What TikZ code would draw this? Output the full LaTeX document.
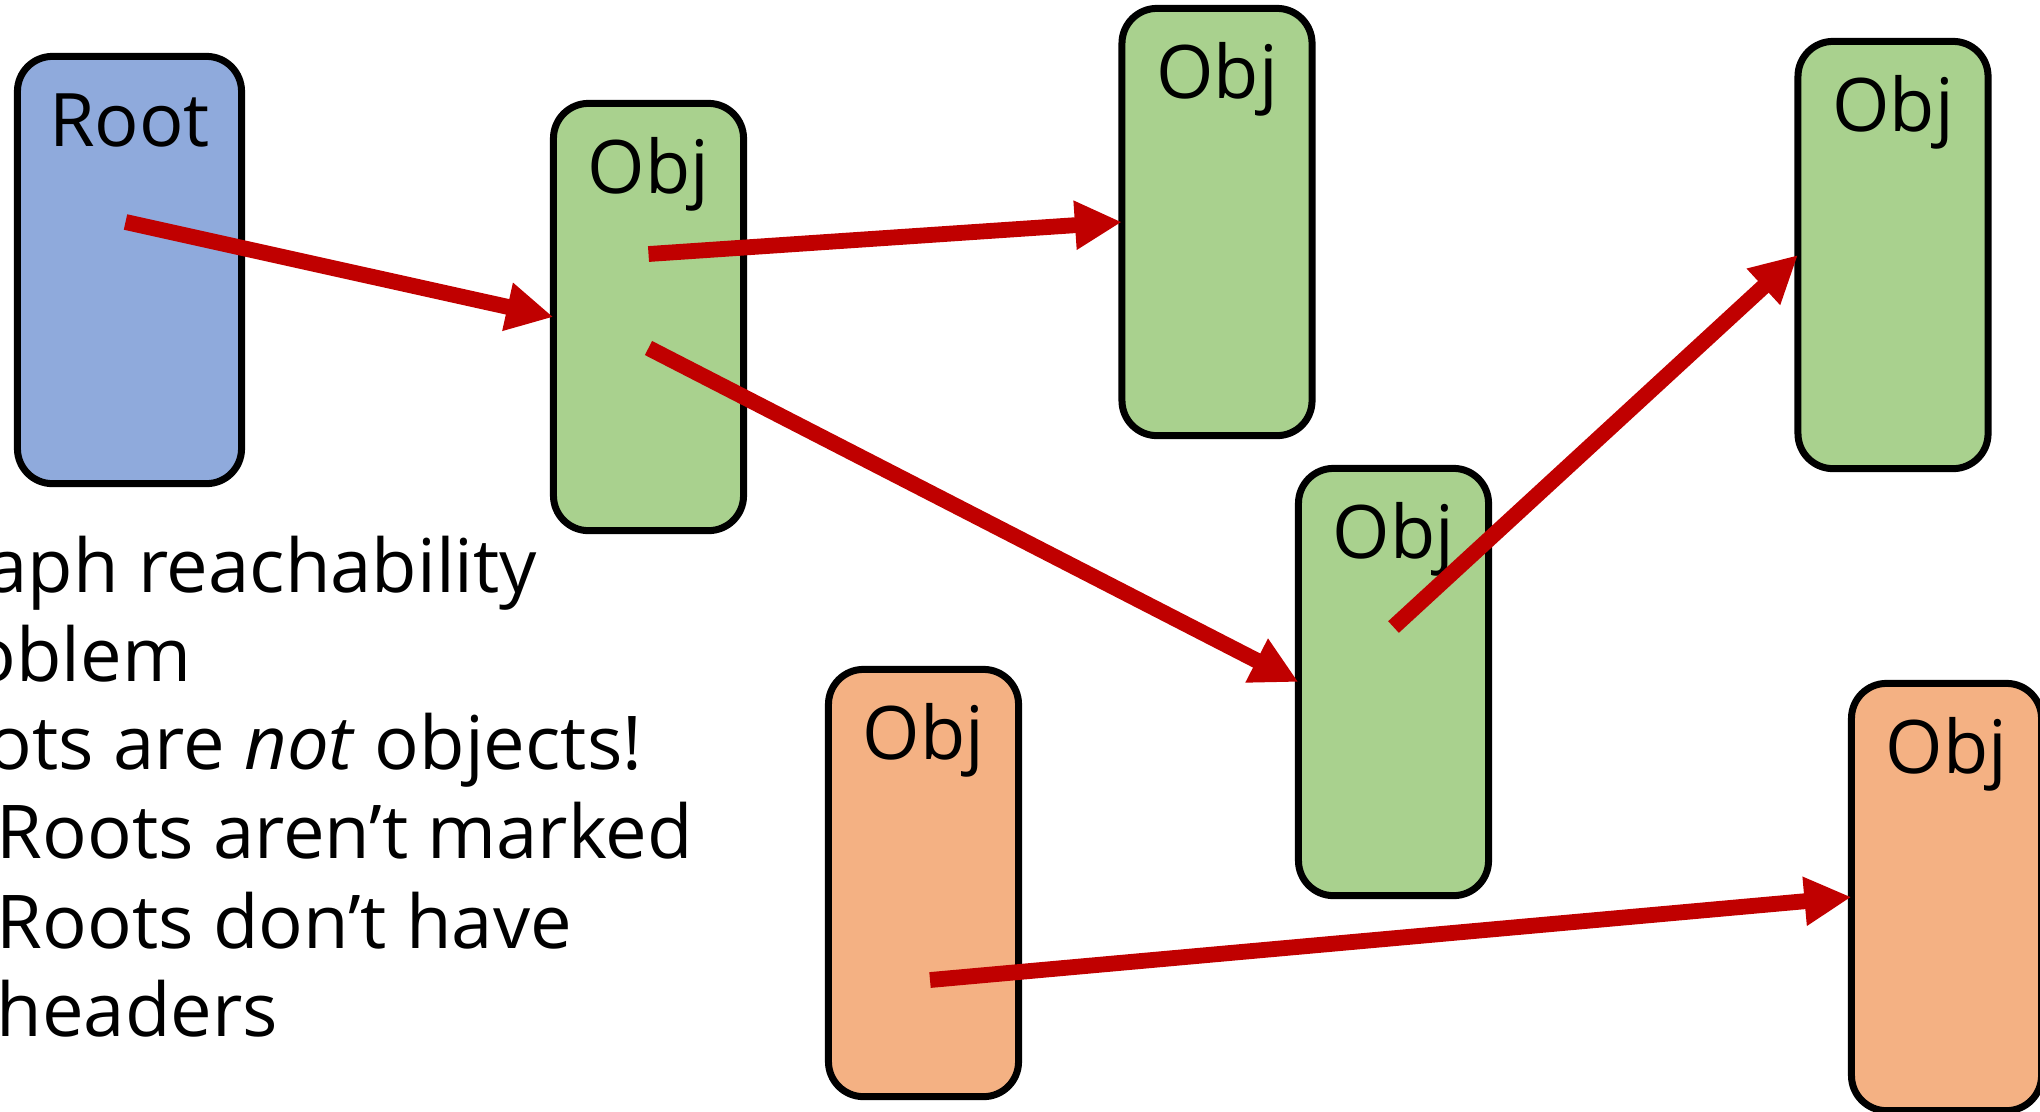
\documentclass[tikz,border=0pt]{standalone}
\usepackage{fontspec}
\setmainfont{Open Sans}
\usetikzlibrary{arrows.meta,calc}
\definecolor{rootblue}{HTML}{8FAADC}
\definecolor{objgreen}{HTML}{A9D18E}
\definecolor{objorange}{HTML}{F4B183}
\definecolor{ptrred}{HTML}{C00000}

\begin{document}
\begin{tikzpicture}[x=0.01cm,y=-0.01cm,
  box/.style={draw=black, line width=0.07cm, rounded corners=0.35cm,
    minimum width=1.90cm, minimum height=4.27cm, inner sep=0, outer sep=0},
  rootbox/.style={box, fill=rootblue, minimum width=2.24cm},
  live/.style={box, fill=objgreen},
  dead/.style={box, fill=objorange},
  lbl/.style={inner sep=0, font=\fontsize{21pt}{25pt}\selectfont, anchor=base},
  txt/.style={inner sep=0, font=\fontsize{21.1pt}{25pt}\selectfont},
  ptr/.style={draw=ptrred, line width=0.158cm,
    -{Triangle[length=0.47cm,width=0.46cm]}}
]
\useasboundingbox (0,0) rectangle (2040,1111);
\clip (0,0) rectangle (2040,1111);

% bullet text
\node[txt, anchor=base east] (t1) at (538,592) {Graph reachability};
\node[txt, anchor=base east] (t2) at (192,681) {problem};
\node[txt, anchor=base east] (t3) at (643,769) {Roots are \textit{not} objects!};
\node[txt, anchor=base west] (t4) at (-4,858) {Roots aren’t marked};
\node[txt, anchor=base west] (t5) at (-4,948) {Roots don’t have};
\node[txt, anchor=base west] (t6) at (-4,1036) {headers};

% root and heap objects
\node[rootbox] (root) at (129.5,270) {};
\node[live] (o1) at (648.5,317) {};
\node[live] (o2) at (1217,222) {};
\node[live] (o3) at (1393.5,682) {};
\node[live] (o4) at (1893,255) {};
\node[dead] (d1) at (923.5,883) {};
\node[dead] (d2) at (1946.5,897) {};

% box titles
\node[lbl] (root-t) at ($(root.north)+(0,90)$) {Root};
\node[lbl] (o1-t) at ($(o1.north)+(0,90)$) {Obj};
\node[lbl] (o2-t) at ($(o2.north)+(0,90)$) {Obj};
\node[lbl] (o3-t) at ($(o3.north)+(0,90)$) {Obj};
\node[lbl] (o4-t) at ($(o4.north)+(0,90)$) {Obj};
\node[lbl] (d1-t) at ($(d1.north)+(0,90)$) {Obj};
\node[lbl] (d2-t) at ($(d2.north)+(0,90)$) {Obj};

% pointer origins inside the boxes
\coordinate (p1) at ($(root.center)+(-4,-48)$);
\coordinate (p2) at ($(o1.center)+(0,-63)$);
\coordinate (p3) at ($(o1.center)+(0,31)$);
\coordinate (p4) at ($(o3.center)+(0,-55)$);
\coordinate (p5) at ($(d1.center)+(6.5,97)$);

% pointers
\draw[ptr] (p1) -- (o1.west);
\draw[ptr] (p2) -- (o2.west);
\draw[ptr] (p3) -- (o3.west);
\draw[ptr] (p4) -- (o4.west);
\draw[ptr] (p5) -- (d2.west);
\end{tikzpicture}
\end{document}
